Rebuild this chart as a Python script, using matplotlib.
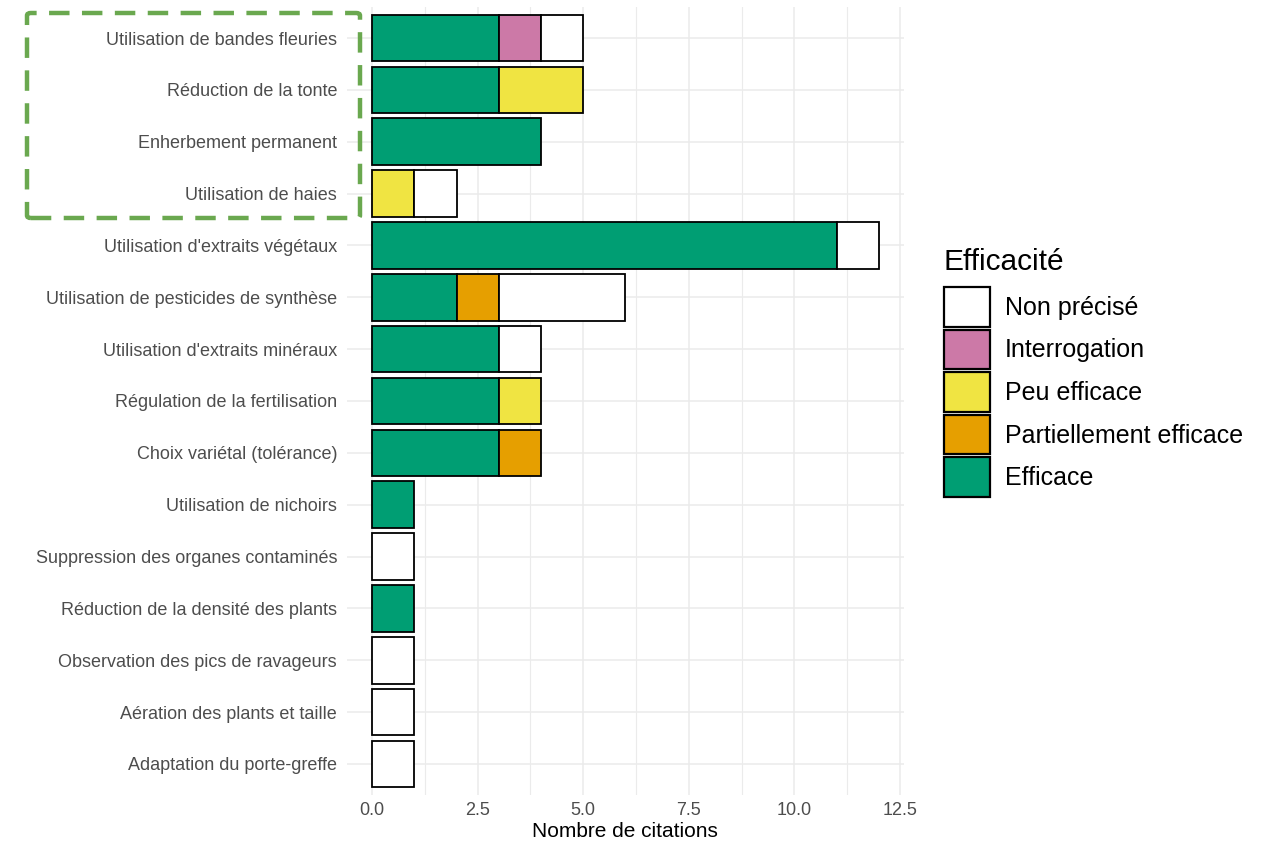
import matplotlib.pyplot as plt
import numpy as np
from matplotlib.patches import Patch, FancyBboxPatch

plt.rcParams['font.family'] = ['Liberation Sans', 'DejaVu Sans']

# categories, top to bottom
pratiques = ["Utilisation de bandes fleuries", "Réduction de la tonte", "Enherbement permanent",
             "Utilisation de haies", "Utilisation d'extraits végétaux",
             "Utilisation de pesticides de synthèse", "Utilisation d'extraits minéraux",
             "Régulation de la fertilisation", "Choix variétal (tolérance)",
             "Utilisation de nichoirs", "Suppression des organes contaminés",
             "Réduction de la densité des plants", "Observation des pics de ravageurs",
             "Aération des plants et taille", "Adaptation du porte-greffe"]

# counts per efficacy level (stacked left to right)
efficace = [3, 3, 4, 0, 11, 2, 3, 3, 3, 1, 0, 1, 0, 0, 0]
partiellement = [0, 0, 0, 0, 0, 1, 0, 0, 1, 0, 0, 0, 0, 0, 0]
peu = [0, 2, 0, 1, 0, 0, 0, 1, 0, 0, 0, 0, 0, 0, 0]
interrogation = [1, 0, 0, 0, 0, 0, 0, 0, 0, 0, 0, 0, 0, 0, 0]
non_precise = [1, 0, 0, 1, 1, 3, 1, 0, 0, 0, 1, 0, 1, 1, 1]

niveaux = ["Non précisé", "Interrogation", "Peu efficace", "Partiellement efficace", "Efficace"]
couleurs = {"Non précisé": "#FFFFFF", "Interrogation": "#CC79A7", "Peu efficace": "#F0E442",
            "Partiellement efficace": "#E69F00", "Efficace": "#009E73"}
series = {"Efficace": efficace, "Partiellement efficace": partiellement, "Peu efficace": peu,
          "Interrogation": interrogation, "Non précisé": non_precise}

fig = plt.figure(figsize=(12.8, 8.5), dpi=100)
ax = fig.add_axes([0.2709, 0.0647, 0.7063 - 0.2709, 0.9918 - 0.0647])

y = np.arange(len(pratiques))[::-1]
left = np.zeros(len(pratiques))
for niv in ["Efficace", "Partiellement efficace", "Peu efficace", "Interrogation", "Non précisé"]:
    vals = np.array(series[niv], dtype=float)
    mask = vals > 0
    ax.barh(y[mask], vals[mask], left=left[mask], height=0.9, color=couleurs[niv],
            edgecolor='black', linewidth=1.3, zorder=3)
    left += vals

ax.set_xlim(-0.6, 12.6)
ax.set_ylim(-0.6, len(pratiques) - 0.4)
ax.set_xticks([0, 2.5, 5, 7.5, 10, 12.5])
ax.set_xticklabels(["0.0", "2.5", "5.0", "7.5", "10.0", "12.5"])
ax.set_xticks([1.25, 3.75, 6.25, 8.75, 11.25], minor=True)
ax.set_yticks(y)
ax.set_yticklabels(pratiques)

ax.grid(True, which='major', color='#EBEBEB', linewidth=1.1, zorder=0)
ax.grid(True, which='minor', axis='x', color='#EBEBEB', linewidth=0.8, zorder=0)
ax.tick_params(which='both', length=0)
ax.tick_params(axis='y', labelsize=13, labelcolor='#4D4D4D', pad=7)
ax.tick_params(axis='x', labelsize=13, labelcolor='#4D4D4D', pad=5)
for s in ax.spines.values():
    s.set_visible(False)
ax.set_xlabel("Nombre de citations", fontsize=15, color='black', labelpad=2)

# legend: title as separate text so the gap to the keys matches
fig.text(944 / 1280, 1 - 262 / 850, "Efficacité", fontsize=21.5, ha='left', va='center')
handles = [Patch(facecolor=couleurs[n], edgecolor='black', linewidth=1.6, label=n) for n in niveaux]
leg = fig.legend(handles=handles, loc='upper left', bbox_to_anchor=(944 / 1280, 1 - 287 / 850),
                 fontsize=18, frameon=False,
                 handlelength=1.84, handleheight=2.06, labelspacing=0.12, handletextpad=0.6,
                 borderaxespad=0, borderpad=0)

# dashed highlight box around the first four practices
box = FancyBboxPatch((27 / 1280, 1 - 218 / 850), (360 - 27) / 1280, (218 - 13) / 850,
                     boxstyle="round,pad=0,rounding_size=0.003", transform=fig.transFigure,
                     fill=False, edgecolor='#6AA84F', linewidth=3.2, linestyle=(0, (4.6, 2.8)),
                     zorder=10)
fig.patches.append(box)

fig.savefig("out.png", dpi=100)
